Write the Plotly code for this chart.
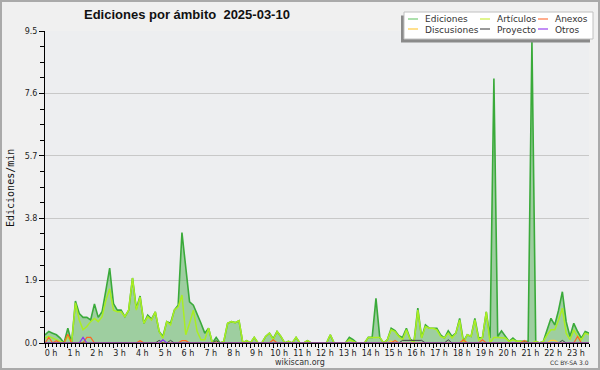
import plotly.graph_objects as go

# ---- data (10-minute steps, 0h00 .. 23h50) ----
minutes = list(range(0, 1440, 10))

ediciones = [
    0.25, 0.35, 0.3, 0.25, 0.15, 0.0, 0.45, 0.0, 1.28, 0.9, 0.78, 0.78,
    0.7, 1.19, 0.78, 0.95, 1.6, 2.28, 1.2, 1.0, 1.0, 0.8, 1.0, 1.98,
    1.05, 1.43, 0.6, 0.85, 0.73, 0.95, 0.35, 0.2, 0.65, 0.6, 1.0, 1.15,
    3.36, 2.3, 1.25, 1.15, 0.9, 0.6, 0.3, 0.45, 0.0, 0.17, 0.0, 0.05,
    0.6, 0.65, 0.62, 0.68, 0.0, 0.07, 0.0, 0.17, 0.0, 0.0, 0.2, 0.3,
    0.13, 0.35, 0.2, 0.0, 0.05, 0.0, 0.17, 0.0, 0.0, 0.07, 0.0, 0.0,
    0.0, 0.0, 0.0, 0.25, 0.0, 0.0, 0.0, 0.0, 0.17, 0.1, 0.0, 0.0,
    0.0, 0.17, 0.17, 1.36, 0.17, 0.0, 0.1, 0.45, 0.38, 0.22, 0.17, 0.45,
    0.12, 0.04, 1.06, 0.17, 0.55, 0.45, 0.45, 0.45, 0.25, 0.15, 0.37, 0.2,
    0.3, 0.75, 0.05, 0.25, 0.2, 0.75, 0.15, 0.17, 0.95, 0.15, 8.05, 0.2,
    0.37, 0.2, 0.05, 0.15, 0.05, 0.05, 0.05, 0.05, 9.2, 0.05, 0.0, 0.05,
    0.4, 0.75, 0.55, 1.0, 1.56, 0.65, 0.2, 0.6, 0.35, 0.15, 0.35, 0.3,
]

articulos = [
    0.15, 0.2, 0.15, 0.1, 0.05, 0.0, 0.2, 0.0, 1.22, 0.7, 0.4, 0.5,
    0.65, 0.75, 0.65, 0.8, 1.3, 1.65, 1.0, 0.95, 0.95, 0.8, 1.0, 1.98,
    1.0, 1.4, 0.6, 0.8, 0.7, 0.95, 0.35, 0.15, 0.65, 0.55, 1.0, 1.1,
    1.46, 0.25, 0.6, 1.0, 0.35, 0.1, 0.1, 0.45, 0.0, 0.05, 0.0, 0.05,
    0.6, 0.65, 0.62, 0.68, 0.0, 0.07, 0.0, 0.17, 0.0, 0.0, 0.2, 0.3,
    0.1, 0.35, 0.2, 0.0, 0.05, 0.0, 0.17, 0.0, 0.0, 0.07, 0.0, 0.0,
    0.0, 0.0, 0.0, 0.25, 0.0, 0.0, 0.0, 0.0, 0.1, 0.05, 0.0, 0.0,
    0.0, 0.17, 0.17, 0.17, 0.17, 0.0, 0.1, 0.4, 0.35, 0.2, 0.1, 0.4,
    0.1, 0.0, 1.0, 0.15, 0.5, 0.45, 0.45, 0.4, 0.2, 0.15, 0.3, 0.15,
    0.3, 0.7, 0.0, 0.25, 0.2, 0.7, 0.1, 0.17, 0.95, 0.0, 0.17, 0.17,
    0.17, 0.15, 0.05, 0.1, 0.05, 0.05, 0.0, 0.0, 0.0, 0.05, 0.0, 0.05,
    0.25, 0.4, 0.4, 0.7, 1.06, 0.3, 0.1, 0.4, 0.2, 0.1, 0.3, 0.25,
]

# sparse series: (slot index, value)
anexos_idx = [1, 3, 6, 11, 12, 25, 36, 37, 60, 92, 110, 115, 126, 140]
anexos_val = [0.17, 0.07, 0.27, 0.17, 0.17, 0.07, 0.07, 0.07, 0.1, 0.08, 0.1, 0.1, 0.08, 0.2]
discusiones_idx = [91, 133, 134]
discusiones_val = [0.06, 0.08, 0.08]
proyecto_idx = [30, 33, 45, 94, 95, 96, 97, 98, 99, 106, 136]
proyecto_val = [0.08, 0.08, 0.07, 0.08, 0.08, 0.08, 0.08, 0.08, 0.08, 0.1, 0.08]
otros_idx = [10, 31]
otros_val = [0.17, 0.1]

y_ticks = [0.0, 1.9, 3.8, 5.7, 7.6, 9.5]
y_minor = [0.475, 0.95, 1.425, 2.375, 2.85, 3.325, 4.275, 4.75, 5.225,
           6.175, 6.65, 7.125, 8.075, 8.55, 9.025]


def expand(idx, val):
    out = [0.0] * len(minutes)
    for i, v in zip(idx, val):
        out[i] = v
    return out


hours = [m / 60 for m in minutes]

series = [
    ("Artículos", articulos, "#aaee22", 1.5),
    ("Discusiones", expand(discusiones_idx, discusiones_val), "#ffcc33", 1.2),
    ("Anexos", expand(anexos_idx, anexos_val), "#ff6622", 1.2),
    ("Proyecto", expand(proyecto_idx, proyecto_val), "#444444", 1.0),
    ("Otros", expand(otros_idx, otros_val), "#8833ee", 1.2),
]

fig = go.Figure()
fig.add_trace(go.Scatter(
    x=hours, y=ediciones, mode="lines", name="Ediciones",
    line=dict(color="#3aaa3a", width=1.6), fill="tozeroy",
    fillcolor="rgba(70,170,70,0.47)", showlegend=False, hoverinfo="skip"))
for name, vals, col, w in series:
    fig.add_trace(go.Scatter(x=hours, y=vals, mode="lines", name=name,
                             line=dict(color=col, width=w), showlegend=False,
                             hoverinfo="skip"))

# ---- geometry helpers (pixel -> paper) ----
L, R, T, B = 45, 589, 31, 343


def fx(px):
    return (px - L) / (R - L)


def fy(py):
    return (B - py) / (B - T)


shapes = [
    # outer frame
    dict(type="rect", xref="paper", yref="paper", x0=fx(1), x1=fx(599), y0=fy(1), y1=fy(369),
         line=dict(color="#aaaaaa", width=2), fillcolor="rgba(0,0,0,0)", layer="above"),
    # legend shadow + box
    dict(type="rect", xref="paper", yref="paper", x0=fx(401), x1=fx(590), y0=fy(15.5), y1=fy(42.5),
         line=dict(width=0), fillcolor="#8a8a8a", layer="above"),
    dict(type="rect", xref="paper", yref="paper", x0=fx(404), x1=fx(593), y0=fy(12), y1=fy(39),
         line=dict(color="#c0c0c0", width=1), fillcolor="#ffffff", layer="above"),
]

legend_items = [
    ("Ediciones", "#77cc77", 408, 19),
    ("Discusiones", "#ffcc44", 408, 29),
    ("Artículos", "#ccee44", 480, 19),
    ("Proyecto", "#555555", 480, 29),
    ("Anexos", "#ff7744", 538, 19),
    ("Otros", "#9944ee", 538, 29),
]
annotations = []
for text, col, x0, yy in legend_items:
    shapes.append(dict(type="line", xref="paper", yref="paper", x0=fx(x0), x1=fx(x0 + 10),
                       y0=fy(yy), y1=fy(yy), line=dict(color=col, width=1.2), layer="above"))
    annotations.append(dict(text=text, xref="paper", yref="paper", x=fx(x0 + 15), y=fy(yy + 0.5),
                            xanchor="left", yanchor="middle", showarrow=False,
                            font=dict(size=9, color="#333333", family="DejaVu Sans")))

annotations += [
    dict(text="<b>Ediciones por ámbito \u00a02025-03-10</b>", xref="paper", yref="paper",
         x=fx(187), y=fy(15), xanchor="center", yanchor="middle", showarrow=False,
         font=dict(size=13, color="#111111", family="Liberation Sans")),
    dict(text="Ediciones/min", xref="paper", yref="paper", x=fx(10), y=fy(188),
         xanchor="center", yanchor="middle", textangle=-90, showarrow=False,
         font=dict(size=10, color="#111111", family="DejaVu Sans Mono")),
    dict(text="wikiscan.org", xref="paper", yref="paper", x=fx(300), y=fy(362),
         xanchor="center", yanchor="middle", showarrow=False,
         font=dict(size=8, color="#333333", family="DejaVu Sans")),
    dict(text="CC BY-SA 3.0", xref="paper", yref="paper", x=fx(569), y=fy(362.5),
         xanchor="center", yanchor="middle", showarrow=False,
         font=dict(size=6, color="#333333", family="DejaVu Sans")),
]

fig.update_layout(
    width=600, height=370,
    margin=dict(l=L, r=600 - R, t=T, b=370 - B, pad=0),
    paper_bgcolor="#f0f0f0", plot_bgcolor="#edeef0",
    font=dict(family="DejaVu Sans", size=8, color="#222222"),
    shapes=shapes, annotations=annotations, showlegend=False,
    hovermode=False,
    xaxis=dict(range=[0, hours[-1]], tick0=0, dtick=1, ticksuffix=" h",
               showline=True, linecolor="#000000", linewidth=1, mirror=False,
               ticks="outside", ticklen=4, tickwidth=1, tickcolor="#000000",
               ticklabelshift=6, ticklabelstandoff=-2,
               minor=dict(dtick=1 / 6, ticks="outside", ticklen=3, tickcolor="#000000"),
               showgrid=False, zeroline=False, tickfont=dict(size=8)),
    yaxis=dict(range=[0, 9.5], tickvals=y_ticks, ticktext=[f"{v:.1f}" for v in y_ticks],
               showline=True, linecolor="#000000", linewidth=1,
               ticks="outside", ticklen=5, tickwidth=1, tickcolor="#000000",
               minor=dict(tickvals=y_minor, ticks="outside", ticklen=4, tickcolor="#000000"),
               showgrid=True, gridcolor="#c8c8c8", gridwidth=1, zeroline=False,
               tickfont=dict(size=8)),
)

fig.write_html(
    "out.html",
    config={"displayModeBar": False, "staticPlot": True},
    post_script="document.body.style.margin='0';document.body.style.overflow='hidden';",
)
